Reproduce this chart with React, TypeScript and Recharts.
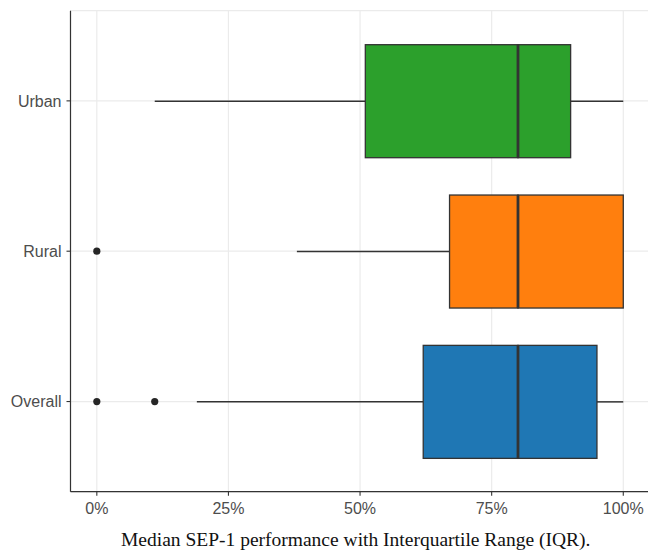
import React from 'react';
import {
  ComposedChart,
  Bar,
  Cell,
  Scatter,
  XAxis,
  YAxis,
  CartesianGrid,
} from 'recharts';

const categories = ['Urban', 'Rural', 'Overall'];
const whiskerLow = [0.11, 0.38, 0.19];
const lowerQuartile = [0.51, 0.67, 0.62];
const medians = [0.8, 0.8, 0.8];
const upperQuartile = [0.9, 1.0, 0.95];
const whiskerHigh = [1.0, 1.0, 1.0];
const outliers: number[][] = [[], [0], [0, 0.11]];
const boxColors = ['#2CA02C', '#FF7F0E', '#1F77B4'];
const xTicks = [0, 0.25, 0.5, 0.75, 1];
const xMinorTicks = [0.125, 0.375, 0.625, 0.875];

// stacked segments: invisible base, lower whisker, two box halves, upper whisker
const data = categories.map((cat, i) => ({
  cat,
  base: whiskerLow[i],
  lowWhisker: lowerQuartile[i] - whiskerLow[i],
  lowBox: medians[i] - lowerQuartile[i],
  highBox: upperQuartile[i] - medians[i],
  highWhisker: whiskerHigh[i] - upperQuartile[i],
  out1: outliers[i][0] ?? null,
  out2: outliers[i][1] ?? null,
}));

const INK = '#333333';
const TICK_FONT = { fontFamily: '"Liberation Sans", Arial, sans-serif', fontSize: 16, fill: '#4D4D4D' };

const Whisker = (props: any) => {
  const { x, y, width, height } = props;
  const cy = y + height / 2;
  return <line x1={x} x2={x + width} y1={cy} y2={cy} stroke={INK} strokeWidth={1.5} />;
};

const LowBox = (props: any) => {
  const { x, y, width, height, fill } = props;
  return <rect x={x} y={y} width={width} height={height} fill={fill} stroke={INK} strokeWidth={1.3} />;
};

const HighBox = (props: any) => {
  const { x, y, width, height, fill } = props;
  return (
    <g>
      <rect x={x} y={y} width={width} height={height} fill={fill} stroke={INK} strokeWidth={1.3} />
      <line x1={x} x2={x} y1={y} y2={y + height} stroke={INK} strokeWidth={2.8} />
    </g>
  );
};

const makeDot = (key: string) => (props: any) => {
  const { cx, cy, payload } = props;
  if (payload == null || payload[key] == null || cx == null || cy == null) return <g />;
  return <circle cx={cx} cy={cy} r={3.6} fill="#262626" />;
};

const App: React.FC = () => {
  return (
    <div style={{ position: 'absolute', left: 0, top: 0, width: 648, height: 552, background: '#fff' }}>
      <ComposedChart
        width={648}
        height={552}
        data={data}
        layout="vertical"
        margin={{ top: 10.7, right: -1.6, bottom: 30.3, left: 0 }}
      >
        <CartesianGrid xAxisId="minor" horizontal={false} stroke="#EFEFEF" strokeWidth={0.8} verticalFill={[]} />
        <CartesianGrid stroke="#EBEBEB" strokeWidth={1.2} />
        <XAxis
          type="number"
          domain={[-0.05, 1.05]}
          allowDataOverflow
          ticks={xTicks}
          tickFormatter={(v: number) => `${Math.round(v * 100)}%`}
          tick={TICK_FONT}
          tickSize={4}
          tickMargin={7}
          height={30}
          axisLine={{ stroke: INK, strokeWidth: 1.2 }}
          tickLine={{ stroke: INK, strokeWidth: 1.1 }}
        />
        <XAxis
          xAxisId="minor"
          orientation="top"
          type="number"
          domain={[-0.05, 1.05]}
          allowDataOverflow
          ticks={xMinorTicks}
          tick={false}
          tickLine={false}
          height={0}
          axisLine={{ stroke: INK, strokeWidth: 1.2 }}
        />
        <YAxis
          type="category"
          dataKey="cat"
          width={70.5}
          padding={{ top: 15, bottom: 15 }}
          tick={TICK_FONT}
          tickSize={4}
          tickMargin={5}
          axisLine={{ stroke: INK, strokeWidth: 1.2 }}
          tickLine={{ stroke: INK, strokeWidth: 1.1 }}
        />
        <Bar dataKey="base" stackId="box" barSize={113} fill="none" isAnimationActive={false} shape={() => <g />} />
        <Bar dataKey="lowWhisker" stackId="box" barSize={113} isAnimationActive={false} shape={Whisker} />
        <Bar dataKey="lowBox" stackId="box" barSize={113} isAnimationActive={false} shape={LowBox}>
          {data.map((d, i) => (
            <Cell key={`lo-${d.cat}`} fill={boxColors[i]} />
          ))}
        </Bar>
        <Bar dataKey="highBox" stackId="box" barSize={113} isAnimationActive={false} shape={HighBox}>
          {data.map((d, i) => (
            <Cell key={`hi-${d.cat}`} fill={boxColors[i]} />
          ))}
        </Bar>
        <Bar dataKey="highWhisker" stackId="box" barSize={113} isAnimationActive={false} shape={Whisker} />
        <Scatter dataKey="out1" isAnimationActive={false} shape={makeDot('out1')} />
        <Scatter dataKey="out2" isAnimationActive={false} shape={makeDot('out2')} />
      </ComposedChart>
      <div
        style={{
          position: 'absolute',
          left: 121,
          top: 530,
          fontFamily: '"Liberation Serif", "Times New Roman", serif',
          fontSize: 19.5,
          lineHeight: '20px',
          color: '#111',
          whiteSpace: 'nowrap',
        }}
      >
        Median SEP-1 performance with Interquartile Range (IQR).
      </div>
    </div>
  );
};

export default App;
